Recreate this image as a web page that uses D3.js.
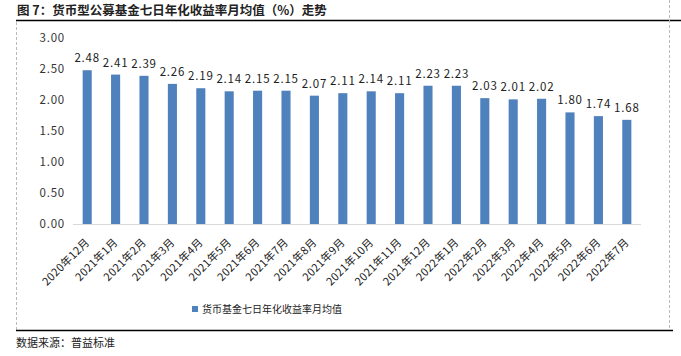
<!DOCTYPE html>
<html><head><meta charset="utf-8">
<script src="https://cdn.jsdelivr.net/npm/d3@7"></script>
<style>body{margin:0;background:#fff;}svg{display:block;}</style>
</head><body>
<svg id="c" width="681" height="356"></svg>
<script>
const categories = ["2020年12月","2021年1月","2021年2月","2021年3月","2021年4月","2021年5月","2021年6月","2021年7月","2021年8月","2021年9月","2021年10月","2021年11月","2021年12月","2022年1月","2022年2月","2022年3月","2022年4月","2022年5月","2022年6月","2022年7月"];
const values = [2.48,2.41,2.39,2.26,2.19,2.14,2.15,2.15,2.07,2.11,2.14,2.11,2.23,2.23,2.03,2.01,2.02,1.80,1.74,1.68];
const yTicks = [0,0.5,1.0,1.5,2.0,2.5,3.0];
const seriesName = "货币基金七日年化收益率月均值";
const title = "图 7：货币型公募基金七日年化收益率月均值（%）走势";
const source = "数据来源：普益标准";

const font = "'Noto Sans CJK SC','Noto Sans',sans-serif";
const svg = d3.select("#c");
const color = "#4F81BD";

// frame
svg.append("text").attr("x",17).attr("y",15).attr("font-family",font).attr("font-size",12.5)
  .attr("font-weight","bold").attr("fill","#222").text(title);
svg.append("line").attr("x1",16).attr("x2",681).attr("y1",20.5).attr("y2",20.5).attr("stroke","#000").attr("stroke-width",1.5);
svg.append("line").attr("x1",16.5).attr("x2",16.5).attr("y1",22).attr("y2",330).attr("stroke","#bbb").attr("stroke-dasharray","3,2");
svg.append("line").attr("x1",669.5).attr("x2",669.5).attr("y1",0).attr("y2",330).attr("stroke","#bbb").attr("stroke-dasharray","3,2");
svg.append("line").attr("x1",16).attr("x2",673).attr("y1",330.5).attr("y2",330.5).attr("stroke","#000").attr("stroke-width",1.5);
svg.append("text").attr("x",16).attr("y",347).attr("font-family",font).attr("font-size",11).attr("fill","#222").text(source);

const x = d3.scaleBand().domain(categories).range([73,641]).paddingInner(0.68).paddingOuter(0.34);
const y = d3.scaleLinear().domain([0,3]).range([224,38]);

// y axis
const ya = svg.append("g").attr("transform","translate(65,0)")
  .call(d3.axisLeft(y).tickValues(yTicks).tickSize(0).tickPadding(0).tickFormat(d3.format(".2f")));
ya.select(".domain").remove();
ya.selectAll("text").attr("font-family",font).attr("font-size",11.5).attr("letter-spacing",0.8).attr("fill","#333");

// bars
svg.append("g").selectAll("rect").data(values).join("rect")
  .attr("x",(d,i)=>x(categories[i])).attr("width",x.bandwidth())
  .attr("y",d=>y(d)).attr("height",d=>y(0)-y(d)).attr("fill",color);

// baseline
const xa = svg.append("g").attr("transform",`translate(0,${y(0)})`)
  .call(d3.axisBottom(x).tickSize(0).tickPadding(0));
xa.select(".domain").attr("stroke","#d9d9d9").attr("d","M73,0.5H641");
xa.selectAll(".tick text")
  .attr("font-family",font).attr("font-size",11).attr("letter-spacing",0.3).attr("fill","#222")
  .attr("text-anchor","end").attr("dy",null).attr("y",null)
  .attr("transform","translate(3,19) rotate(-45)");

// data labels
svg.append("g").selectAll("text").data(values).join("text")
  .attr("x",(d,i)=>x(categories[i])+x.bandwidth()/2).attr("y",d=>y(d)-8)
  .attr("text-anchor","middle").attr("font-family",font).attr("font-size",11.5).attr("letter-spacing",0.8).attr("fill","#222")
  .text(d=>d3.format(".2f")(d));

// legend
const lg = svg.append("g");
lg.append("rect").attr("x",192).attr("y",306).attr("width",6).attr("height",6).attr("fill",color);
lg.append("text").attr("x",202).attr("y",312.5).attr("font-family",font).attr("font-size",10).attr("fill","#222").text(seriesName);
</script>
</body></html>
